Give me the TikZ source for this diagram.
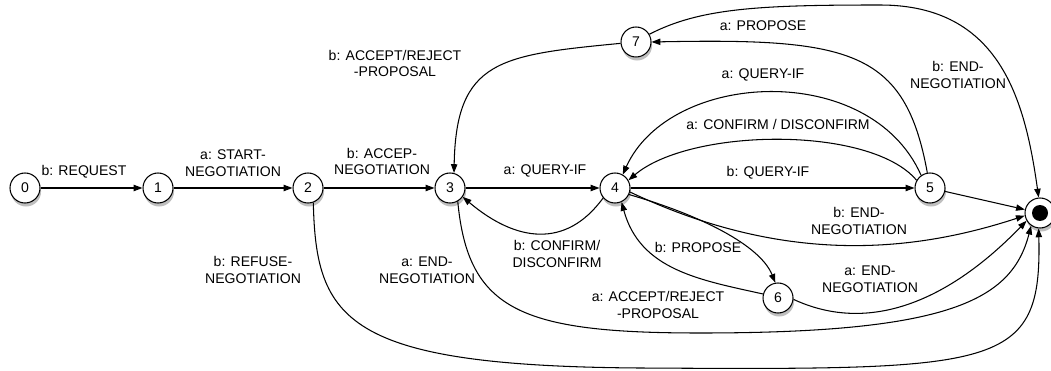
\documentclass[tikz,border=0pt]{standalone}
\usepackage{fontspec}
\setmainfont{Liberation Sans}
\usetikzlibrary{arrows.meta,shadows}

\begin{document}
\begin{tikzpicture}[
  >={Triangle[length=5pt,width=3.6pt]},
  x=0.02cm,y=-0.02cm,
  st/.style={draw=black, circle, fill=white, line width=0.6pt, minimum size=0.6cm,
    inner sep=0pt, font=\fontsize{8}{9.6}\selectfont,
    drop shadow={shadow xshift=0.6pt, shadow yshift=-2pt, opacity=0.5}},
  fin/.style={st, path picture={\fill[black] (path picture bounding box.center) circle (0.16cm);}},
  lbl/.style={align=center, font=\fontsize{8}{9.6}\selectfont, inner sep=0pt},
  arrow/.style={->, line width=0.6pt}
]
\useasboundingbox (0,0) rectangle (1051,371);

% States of the dialogue
\node[st] (s0) at (25,188) {0};
\node[st] (s1) at (158,188) {1};
\node[st] (s2) at (308,188) {2};
\node[st] (s3) at (450,188) {3};
\node[st] (s4) at (615,188) {4};
\node[st] (s5) at (930,188) {5};
\node[st] (s6) at (778,298) {6};
\node[st] (s7) at (636,42) {7};
\node[fin] (fn) at (1040,213) {};

% Main row
\draw[arrow] (s0) -- (s1);
\draw[arrow] (s1) -- (s2);
\draw[arrow] (s2) -- (s3);
\draw[arrow] (s3) -- (s4);
\draw[arrow] (s4) -- (s5);
\draw[arrow] (s5) -- (fn);

% Loops between 3, 4, 5 and 7
\draw[arrow] (s4.220) .. controls (566,249) and (516,242) .. (s3.-35);
\draw[arrow] (s5.125) .. controls (870,60) and (670,70) .. (s4.60);
\draw[arrow] (s5.150) .. controls (870,125) and (690,128) .. (s4.30);
\draw[arrow] (s5.100) .. controls (905,50) and (850,38) .. (s7.0);
\draw[arrow] (s7.185) .. controls (500,55) and (456,60) .. (s3.75);
\draw[arrow] (s4.-25) .. controls (700,215) and (760,245) .. (s6.100);
\draw[arrow] (s6.165) .. controls (700,280) and (640,270) .. (s4.-65);

% Ways out to the final state
\draw[arrow] (s7.30) .. controls (700,8) and (760,5) .. (880,5)
  .. controls (1000,5) and (1025,100) .. (fn.95);
\draw[arrow] (s4.-15) .. controls (790,268) and (920,250) .. (fn.190);
\draw[arrow] (s6.-5) .. controls (870,335) and (950,300) .. (fn.210);
\draw[arrow] (s3.-60) .. controls (468,310) and (520,333) .. (700,333)
  .. controls (950,333) and (1012,300) .. (fn.235);
\draw[arrow] (s2.-70) .. controls (316,320) and (345,366) .. (640,368)
  .. controls (1000,370) and (1042,370) .. (fn.-95);

% Labels
\node[lbl] (lreq) at (84,172) {b: REQUEST};
\node[lbl] (lstart) at (233,163.5) {a: START-\\NEGOTIATION};
\node[lbl] (laccep) at (382,161.5) {b: ACCEP-\\NEGOTIATION};
\node[lbl] (lq34) at (545,171) {a: QUERY-IF};
\node[lbl] (lq45) at (768,173) {b: QUERY-IF};
\node[lbl] (lconf43) at (557,254) {b: CONFIRM/\\DISCONFIRM};
\node[lbl] (lend3) at (427,270) {a: END-\\NEGOTIATION};
\node[lbl] (lrefuse) at (253,270) {b: REFUSE-\\NEGOTIATION};
\node[lbl] (lprop46) at (698,247) {b: PROPOSE};
\node[lbl] (lacc64) at (658,305) {a: ACCEPT/REJECT\\-PROPOSAL};
\node[lbl] (lend6) at (870,279) {a: END-\\NEGOTIATION};
\node[lbl] (lend4) at (859,221) {b: END-\\NEGOTIATION};
\node[lbl] (lq54) at (763,75) {a: QUERY-IF};
\node[lbl] (lconf54) at (778,124) {a: CONFIRM / DISCONFIRM};
\node[lbl] (lprop57) at (763,26) {a: PROPOSE};
\node[lbl] (lend7) at (958,75) {b: END-\\NEGOTIATION};
\node[lbl] (lacc73) at (395,63.5) {b: ACCEPT/REJECT\\-PROPOSAL};

\end{tikzpicture}
\end{document}
